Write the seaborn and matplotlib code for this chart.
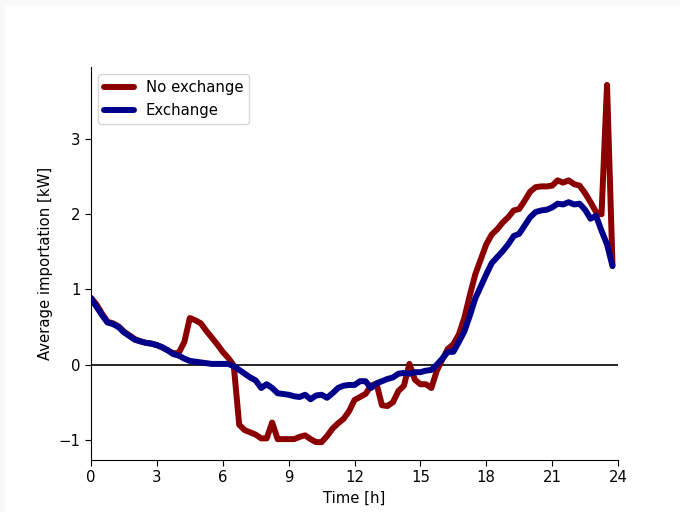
import numpy as np
import pandas as pd
import matplotlib
matplotlib.use("Agg")
import matplotlib.pyplot as plt
from matplotlib.patches import Rectangle
import seaborn as sns

# Quarter-hour time steps over one day
hours = np.arange(96) * 0.25

no_exchange = [
    0.89, 0.80, 0.68, 0.57, 0.55, 0.51, 0.44, 0.39, 0.34, 0.31, 0.29, 0.28,
    0.26, 0.23, 0.19, 0.15, 0.16, 0.30, 0.62, 0.59, 0.55, 0.45, 0.36, 0.27,
    0.17, 0.09, -0.01, -0.80, -0.87, -0.90, -0.93, -0.98, -0.98, -0.77, -0.99, -0.99,
    -0.99, -0.99, -0.96, -0.94, -0.99, -1.03, -1.03, -0.95, -0.85, -0.78, -0.72, -0.62,
    -0.47, -0.43, -0.39, -0.28, -0.25, -0.54, -0.55, -0.50, -0.35, -0.28, 0.01, -0.20,
    -0.26, -0.26, -0.31, -0.08, 0.07, 0.21, 0.27, 0.40, 0.62, 0.92, 1.20, 1.40,
    1.60, 1.73, 1.80, 1.89, 1.96, 2.05, 2.07, 2.18, 2.30, 2.36, 2.37, 2.37,
    2.38, 2.45, 2.42, 2.45, 2.40, 2.38, 2.28, 2.16, 2.03, 2.00, 3.72, 1.32,
]

exchange = [
    0.88, 0.77, 0.66, 0.56, 0.54, 0.50, 0.43, 0.38, 0.33, 0.31, 0.29, 0.28,
    0.26, 0.23, 0.19, 0.14, 0.12, 0.08, 0.05, 0.04, 0.03, 0.02, 0.01, 0.01,
    0.01, 0.01, -0.02, -0.07, -0.12, -0.17, -0.21, -0.31, -0.26, -0.31, -0.38, -0.39,
    -0.40, -0.42, -0.43, -0.40, -0.46, -0.41, -0.40, -0.44, -0.38, -0.31, -0.28, -0.27,
    -0.27, -0.22, -0.22, -0.31, -0.25, -0.22, -0.19, -0.17, -0.12, -0.11, -0.12, -0.10,
    -0.10, -0.08, -0.07, 0.00, 0.08, 0.17, 0.17, 0.30, 0.44, 0.65, 0.88, 1.04,
    1.20, 1.35, 1.43, 1.51, 1.60, 1.71, 1.74, 1.85, 1.96, 2.03, 2.05, 2.06,
    2.09, 2.14, 2.13, 2.16, 2.13, 2.14, 2.06, 1.94, 1.98, 1.78, 1.60, 1.31,
]

series_names = ["No exchange", "Exchange"]
series_colors = ["#8b0000", "#00008b"]
x_ticks = [0, 3, 6, 9, 12, 15, 18, 21, 24]

df = pd.concat([
    pd.DataFrame({"Time": hours, "Import": no_exchange, "Scenario": series_names[0]}),
    pd.DataFrame({"Time": hours, "Import": exchange, "Scenario": series_names[1]}),
])

sns.set_style("ticks")
plt.rcParams["font.family"] = ["DejaVu Sans"]
plt.rcParams["text.color"] = "black"
plt.rcParams["axes.labelcolor"] = "black"

fs = 10.7

fig = plt.figure(figsize=(6.8, 5.12), dpi=100)
fig.patch.set_facecolor("white")
# thin light-grey frame along the top and left edges
for xy, w, h in [((0, 1 - 5 / 512), 1, 5 / 512), ((0, 0), 5 / 680, 1)]:
    fig.add_artist(Rectangle(xy, w, h, transform=fig.transFigure,
                             facecolor="#f9f9f9", edgecolor="none"))

ax = fig.add_axes([91 / 680, 1 - 460 / 512, 527 / 680, 393 / 512])
ax.set_facecolor("white")

ax.axhline(0, color="black", linewidth=1.2, zorder=1)
sns.lineplot(data=df, x="Time", y="Import", hue="Scenario",
             palette=dict(zip(series_names, series_colors)),
             linewidth=4.3, ax=ax, zorder=2)

ax.set_xlim(0, 24)
ax.set_xticks(x_ticks)
ax.set_yticks([-1, 0, 1, 2, 3])
ax.set_xlabel("Time [h]", fontsize=fs)
ax.set_ylabel("Average importation [kW]", fontsize=fs)
ax.tick_params(labelsize=fs, colors="black", direction="out", length=4, width=0.8)
for side in ["left", "bottom"]:
    ax.spines[side].set_color("black")
    ax.spines[side].set_linewidth(0.8)
sns.despine(ax=ax)

leg = ax.legend(loc="upper left", fontsize=fs, frameon=True, handlelength=2)
leg.get_frame().set_edgecolor("#cccccc")
for line in leg.get_lines():
    line.set_linewidth(4.3)

fig.savefig("out.png", dpi=100, facecolor="white")
